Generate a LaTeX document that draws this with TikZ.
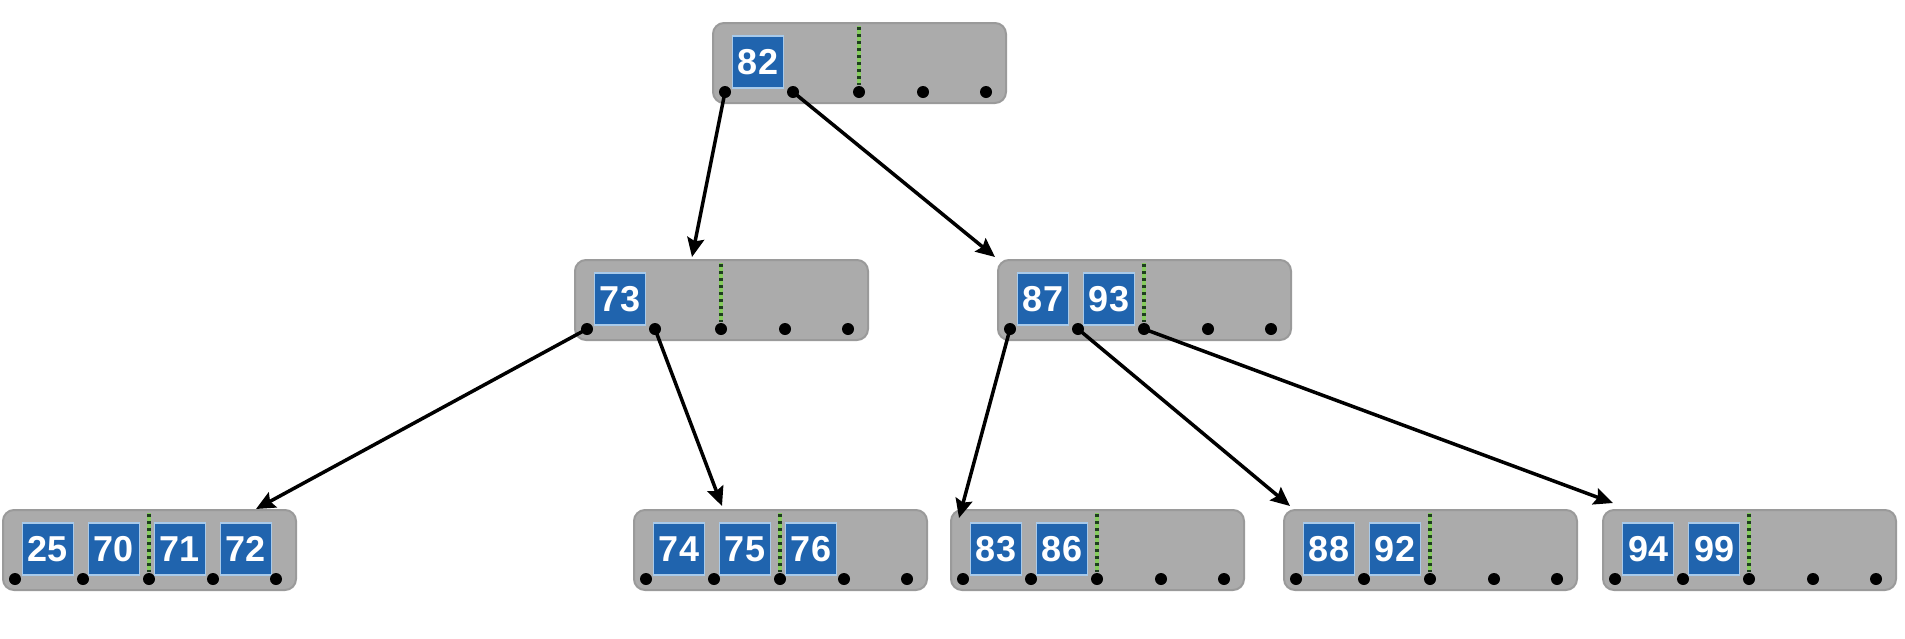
\documentclass[tikz,border=0pt]{standalone}
\usepackage{fontspec}
\setmainfont{Liberation Sans}
\usetikzlibrary{arrows.meta}
\definecolor{nodegray}{HTML}{ABABAB}
\definecolor{nodeedge}{HTML}{9A9A9A}
\definecolor{keyblue}{HTML}{2064AE}
\definecolor{keyedge}{HTML}{A8CAEA}
\definecolor{sepgreen}{HTML}{86CC5E}
\definecolor{sepdark}{HTML}{1E3E1E}
\tikzset{
  bbox/.style={fill=nodegray, draw=nodeedge, line width=2pt, rounded corners=11pt,
    minimum width=293pt, minimum height=80pt, inner sep=0pt},
  keybox/.style={fill=keyblue, draw=keyedge, line width=1.5pt, minimum width=51pt,
    minimum height=52pt, inner sep=0pt, text=white,
    font=\fontsize{36}{36}\selectfont\bfseries},
  ptr/.style={circle, fill=black, minimum size=12pt, inner sep=0pt},
  link/.style={line width=3.5pt, -{Stealth[length=19pt,width=17pt,inset=3pt]}},
}
\newcommand\BNode[4]{%
  \node[bbox] (#1) at ({#2+146.5},{#3+40}) {};
  \foreach \k [count=\j from 0] in {#4} {
    \pgfmathsetmacro\kx{#2+45+66*\j}
    \node[keybox] (#1-k\j) at ({\kx},{#3+39}) {\k};
  }
  \draw[sepgreen, line width=3.5pt] ({#2+146},{#3+3}) -- ({#2+146},{#3+62});
  \draw[sepdark, line width=3.5pt, dash pattern=on 3pt off 4pt] ({#2+146},{#3+4}) -- ({#2+146},{#3+62});
  \foreach \i/\dx in {0/12,1/80,2/146,3/210,4/273}
    \node[ptr] (#1-p\i) at ({#2+\dx},{#3+69}) {};
}
\begin{document}
\begin{tikzpicture}[x=1pt,y=-1pt]
\useasboundingbox (0,0) rectangle (1905,638);
\BNode{r}{713}{23}{82}
\BNode{a}{575}{260}{73}
\BNode{b}{998}{260}{87,93}
\BNode{la}{3}{510}{25,70,71,72}
\BNode{lb}{634}{510}{74,75,76}
\BNode{lc}{951}{510}{83,86}
\BNode{ld}{1284}{510}{88,92}
\BNode{le}{1603}{510}{94,99}
\coordinate (tr0) at (692,257);
\coordinate (tr1) at (995,257);
\coordinate (ta0) at (256,509);
\coordinate (ta1) at (722,506);
\coordinate (tb0) at (959,518);
\coordinate (tb1) at (1290,506);
\coordinate (tb2) at (1613,503);
\draw[link] (r-p0.center) -- (tr0);
\draw[link] (r-p1.center) -- (tr1);
\draw[link] (a-p0.center) -- (ta0);
\draw[link] (a-p1.center) -- (ta1);
\draw[link] (b-p0.center) -- (tb0);
\draw[link] (b-p1.center) -- (tb1);
\draw[link] (b-p2.center) -- (tb2);
\end{tikzpicture}
\end{document}
